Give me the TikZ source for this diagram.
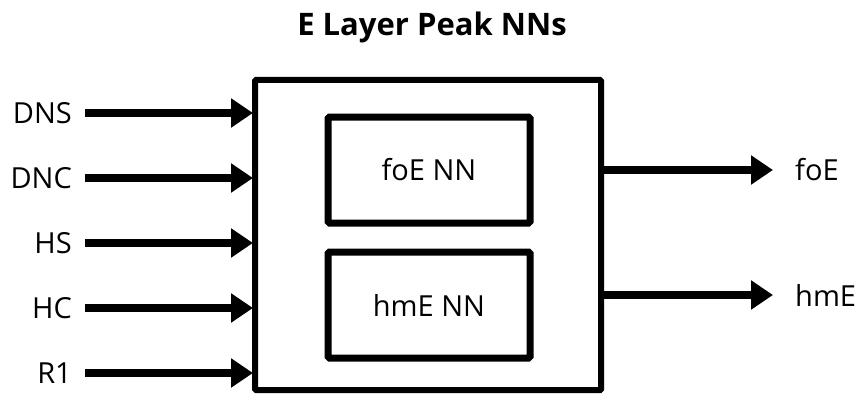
\documentclass[tikz,border=0pt]{standalone}
\usepackage{fontspec}
\setmainfont{Open Sans}
\usetikzlibrary{arrows.meta}
\begin{document}
\begin{tikzpicture}[x=1pt,y=-1pt,
  lbl/.style={font=\fontsize{29}{34}\selectfont, inner sep=0pt},
  outerbox/.style={draw, line width=6pt, minimum width=346pt, minimum height=310pt, inner sep=0pt, rounded corners=1pt},
  nnbox/.style={draw, line width=7pt, minimum width=202pt, minimum height=106pt, inner sep=0pt, rounded corners=1.5pt, font=\fontsize{29}{34}\selectfont},
  arr/.style={line width=8pt, -{Triangle[length=22pt,width=28pt]}}
]
\useasboundingbox (0,0) rectangle (860,396);
\node[font=\bfseries\fontsize{31}{36}\selectfont, inner sep=0pt] (title) at (432,27) {E Layer Peak NNs};
\node[outerbox] (main) at (428,235) {};
\node[nnbox] (foe) at (429,170) {foE NN};
\node[nnbox] (hme) at (429,305) {hmE NN};
% inputs
\foreach \n/\t/\yy in {dns/DNS/113, dnc/DNC/178, hs/HS/243, hc/HC/308, ra/R1/373}{
  \node[lbl, anchor=east] (\n) at (72,\yy) {\t};
  \coordinate (\n s) at (85,\yy);
  \coordinate (\n e) at (253,\yy);
  \draw[arr] (\n s) -- (\n e);
}
% outputs
\coordinate (foes) at (598,170);
\coordinate (foee) at (773,170);
\coordinate (hmes) at (598,295);
\coordinate (hmee) at (773,295);
\node[lbl, anchor=west] (foeout) at (795,170) {foE};
\node[lbl, anchor=west] (hmeout) at (795,295) {hmE};
\draw[arr] (foes) -- (foee);
\draw[arr] (hmes) -- (hmee);
\end{tikzpicture}
\end{document}
